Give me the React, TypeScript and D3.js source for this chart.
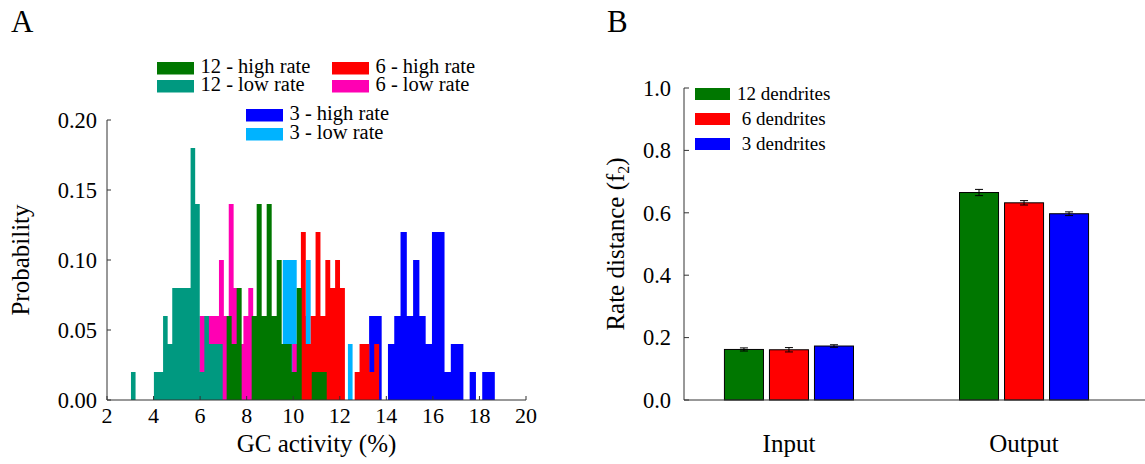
import React from "react";
import * as d3 from "d3";

const W = 1145;
const H = 464;
const FONT = "'Liberation Serif', 'Times New Roman', serif";
const AXIS = "#333";

// ---------- Panel A data (drawn back to front) ----------
const seriesA = ["3 - high rate", "3 - low rate", "6 - high rate", "6 - low rate", "12 - high rate", "12 - low rate"];
const colorsA = ["#0000ff", "#00b3ff", "#ff0000", "#ff00b3", "#007700", "#009980"];
const binStartsA = [13.26, 8.55, 10.33, 5.97, 7.14, 3.03];
const binWidthsA = [0.27, 0.2, 0.21, 0.21, 0.215, 0.197];
const probs3High = [0.06, 0.06, 0, 0.04, 0.06, 0.12, 0.06, 0.10, 0.06, 0.04, 0.12, 0.12, 0.02, 0.04, 0.04, 0, 0.02, 0, 0.02, 0.02];
const probs3Low = [0.02, 0.06, 0.04, 0.04, 0.04, 0.10, 0.10, 0.10, 0.04, 0.06, 0.10, 0.04, 0.04, 0.04, 0.02, 0.02, 0.04, 0.02, 0, 0.04];
const probs6High = [0.12, 0.04, 0.06, 0.12, 0.06, 0.10, 0.08, 0.10, 0.08, 0, 0, 0.02, 0.04, 0.04, 0.02, 0.04];
const probs6Low = [0.06, 0.06, 0.06, 0.06, 0.10, 0.06, 0.14, 0.08, 0.04, 0.06, 0.08, 0.02, 0.02, 0.02, 0.02, 0.02, 0.02, 0.02, 0.02, 0.04];
const probs12High = [0.06, 0.04, 0.08, 0, 0, 0.06, 0.14, 0.06, 0.14, 0.06, 0.10, 0.04, 0.04, 0.02, 0.08, 0, 0, 0.02, 0.02, 0.02];
const probs12Low = [0.02, 0, 0, 0, 0, 0.02, 0.02, 0.06, 0.04, 0.08, 0.08, 0.08, 0.08, 0.18, 0.14, 0.02, 0.06, 0.04, 0.04, 0.04];
const probsA = [probs3High, probs3Low, probs6High, probs6Low, probs12High, probs12Low];
const xTicksA = [2, 4, 6, 8, 10, 12, 14, 16, 18, 20];
const yTicksA = [0, 0.05, 0.1, 0.15, 0.2];

// legend layout for panel A (label order as in the figure)
const legendA = [
  { label: "12 - high rate", color: "#007700", x: 157, y: 62 },
  { label: "12 - low rate", color: "#009980", x: 157, y: 80 },
  { label: "6 - high rate", color: "#ff0000", x: 332, y: 62 },
  { label: "6 - low rate", color: "#ff00b3", x: 332, y: 80 },
  { label: "3 - high rate", color: "#0000ff", x: 246, y: 109 },
  { label: "3 - low rate", color: "#00b3ff", x: 246, y: 128 },
];

// ---------- Panel B data ----------
const groupsB = ["Input", "Output"];
const seriesB = ["12 dendrites", "6 dendrites", "3 dendrites"];
const legendLabelsB = ["12 dendrites", "\u00a06 dendrites", "\u00a03 dendrites"];
const colorsB = ["#007700", "#ff0000", "#0000ff"];
const inputMeans = [0.162, 0.161, 0.173];
const inputErrs = [0.005, 0.007, 0.004];
const outputMeans = [0.665, 0.632, 0.597];
const outputErrs = [0.01, 0.007, 0.006];
const yTicksB = [0, 0.2, 0.4, 0.6, 0.8, 1.0];

export default function App() {
  // Panel A scales
  const xA = d3.scaleLinear().domain([2, 20]).range([107, 526]);
  const yA = d3.scaleLinear().domain([0, 0.2]).range([400, 120]);
  const area = d3
    .area<[number, number]>()
    .x((d) => xA(d[0]))
    .y0(yA(0))
    .y1((d) => yA(d[1]))
    .curve(d3.curveStepAfter);

  const paths = probsA.map((probs, i) => {
    const s = binStartsA[i];
    const w = binWidthsA[i];
    const pts: [number, number][] = probs.map((p, k) => [s + k * w, p]);
    pts.push([s + probs.length * w, 0]);
    return area(pts) as string;
  });

  // Panel B scales
  const yB = d3.scaleLinear().domain([0, 1]).range([400, 88]);
  const xB = d3.scaleBand<string>().domain(groupsB).range([684, 1129]).paddingInner(0.451).paddingOuter(0.172);
  const xInner = d3.scaleBand<string>().domain(seriesB).range([0, xB.bandwidth()]).paddingInner(0.133).paddingOuter(0);
  const meansB = [inputMeans, outputMeans];
  const errsB = [inputErrs, outputErrs];

  return (
    <>
      <style>{`body{margin:0}`}</style>
      <svg width={W} height={H} style={{ display: "block", fontFamily: FONT }}>
        <rect width={W} height={H} fill="#fff" />
        {/* ===== Panel A ===== */}
        <text x={11} y={32} fontSize={31}>A</text>
        <g>
          {paths.map((d, i) => (
            <path key={seriesA[i]} d={d} fill={colorsA[i]} stroke="none" />
          ))}
        </g>
        {/* axes A */}
        <line x1={xA(2)} x2={xA(2)} y1={yA(0)} y2={yA(0.2)} stroke={AXIS} strokeWidth={1} />
        <line x1={xA(2)} x2={xA(20)} y1={yA(0)} y2={yA(0)} stroke={AXIS} strokeWidth={1} />
        {yTicksA.map((t) => (
          <g key={"ya" + t}>
            <line x1={xA(2)} x2={xA(2) + 4} y1={yA(t)} y2={yA(t)} stroke={AXIS} />
            <text x={97} y={yA(t)} dy="0.35em" textAnchor="end" fontSize={22.5}>
              {t.toFixed(2)}
            </text>
          </g>
        ))}
        {xTicksA.map((t) => (
          <g key={"xa" + t}>
            <line x1={xA(t)} x2={xA(t)} y1={yA(0)} y2={yA(0) - 4} stroke={AXIS} />
            <text x={xA(t)} y={423} textAnchor="middle" fontSize={22}>
              {t}
            </text>
          </g>
        ))}
        <text x={(xA(2) + xA(20)) / 2} y={452} textAnchor="middle" fontSize={25}>
          GC activity (%)
        </text>
        <text transform={`translate(29,${(yA(0) + yA(0.2)) / 2}) rotate(-90)`} textAnchor="middle" fontSize={25}>
          Probability
        </text>
        {/* legend A */}
        {legendA.map((l) => (
          <g key={l.label}>
            <rect x={l.x} y={l.y} width={37} height={12.5} fill={l.color} />
            <text x={l.x + 43.5} y={l.y + 11} fontSize={20.5}>
              {l.label}
            </text>
          </g>
        ))}

        {/* ===== Panel B ===== */}
        <text x={607} y={32} fontSize={31}>B</text>
        {groupsB.map((g, gi) => (
          <g key={g} transform={`translate(${xB(g)},0)`}>
            {seriesB.map((s, si) => {
              const m = meansB[gi][si];
              const e = errsB[gi][si];
              const x0 = xInner(s) as number;
              const bw = xInner.bandwidth();
              const cx = x0 + bw / 2;
              return (
                <g key={s}>
                  <rect x={x0} y={yB(m)} width={bw} height={yB(0) - yB(m)} fill={colorsB[si]} stroke="#000" strokeWidth={1} />
                  <line x1={cx} x2={cx} y1={yB(m - e)} y2={yB(m + e)} stroke="#000" strokeWidth={1} />
                  <line x1={cx - 4} x2={cx + 4} y1={yB(m - e)} y2={yB(m - e)} stroke="#000" strokeWidth={1} />
                  <line x1={cx - 4} x2={cx + 4} y1={yB(m + e)} y2={yB(m + e)} stroke="#000" strokeWidth={1} />
                </g>
              );
            })}
            <text x={xB.bandwidth() / 2} y={452} textAnchor="middle" fontSize={25}>
              {g}
            </text>
          </g>
        ))}
        {/* axes B */}
        <line x1={684} x2={684} y1={yB(0)} y2={yB(1)} stroke={AXIS} strokeWidth={1} />
        <line x1={684} x2={W} y1={yB(0)} y2={yB(0)} stroke={AXIS} strokeWidth={1} />
        {yTicksB.map((t) => (
          <g key={"yb" + t}>
            <line x1={684} x2={689} y1={yB(t)} y2={yB(t)} stroke={AXIS} />
            <text x={671} y={yB(t)} dy="0.35em" textAnchor="end" fontSize={22.5}>
              {t.toFixed(1)}
            </text>
          </g>
        ))}
        <text transform={`translate(624,${(yB(0) + yB(1)) / 2}) rotate(-90)`} textAnchor="middle" fontSize={25}>
          Rate distance (f
          <tspan fontSize={16} dy={5}>2</tspan>
          <tspan dy={-5}>)</tspan>
        </text>
        {/* legend B */}
        {legendLabelsB.map((l, i) => (
          <g key={l}>
            <rect x={695} y={88 + i * 25} width={35} height={12} fill={colorsB[i]} />
            <text x={737} y={100 + i * 25} fontSize={19}>
              {l}
            </text>
          </g>
        ))}
      </svg>
    </>
  );
}
